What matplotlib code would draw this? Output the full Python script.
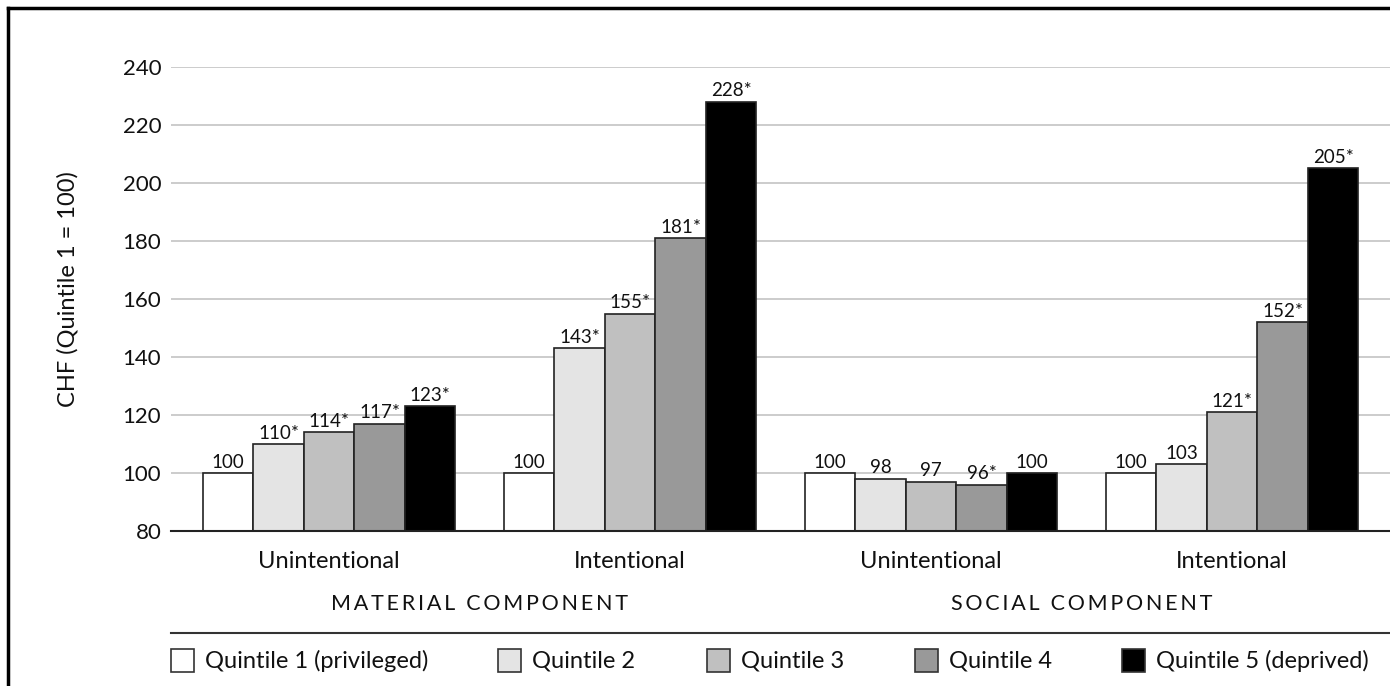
import numpy as np
import matplotlib
matplotlib.use("Agg")
import matplotlib.pyplot as plt
from matplotlib.patches import Rectangle
from matplotlib.lines import Line2D

plt.rcParams['font.family'] = ['Lato', 'DejaVu Sans']

# Datos
categories = ["Unintentional", "Intentional", "Unintentional", "Intentional"]
components = ["MATERIAL COMPONENT", "SOCIAL COMPONENT"]
series_names = ["Quintile 1 (privileged)", "Quintile 2", "Quintile 3",
                "Quintile 4", "Quintile 5 (deprived)"]
q1 = [100, 100, 100, 100]
q2 = [110, 143, 98, 103]
q3 = [114, 155, 97, 121]
q4 = [117, 181, 96, 152]
q5 = [123, 228, 100, 205]
q1_lab = ["100", "100", "100", "100"]
q2_lab = ["110*", "143*", "98", "103"]
q3_lab = ["114*", "155*", "97", "121*"]
q4_lab = ["117*", "181*", "96*", "152*"]
q5_lab = ["123*", "228*", "100", "205*"]
y_ticks = [80, 100, 120, 140, 160, 180, 200, 220, 240]

series = [q1, q2, q3, q4, q5]
labels = [q1_lab, q2_lab, q3_lab, q4_lab, q5_lab]
colors = ["#ffffff", "#e4e4e4", "#c0c0c0", "#999999", "#000000"]

W, H = 1390, 686
fig = plt.figure(figsize=(W / 100, H / 100), dpi=100)
ax = fig.add_axes([171 / W, 1 - 531 / H, 1 - 171 / W, (531 - 67) / H])

x = np.arange(len(categories))
bw = 0.168
for i, (vals, labs, c) in enumerate(zip(series, labels, colors)):
    pos = x + (i - 2) * bw
    heights = np.array(vals) - 80
    ax.bar(pos, heights, width=bw, bottom=80, color=c, edgecolor="#222222",
           linewidth=1.2, zorder=3)
    for p, v, t in zip(pos, vals, labs):
        ax.text(p, v + 0.8, t, ha="center", va="bottom", fontsize=13.5,
                color="#111111", zorder=4)

ax.set_xlim(-0.525, 3.525)
ax.set_ylim(80, 240)
ax.set_yticks(y_ticks)
ax.tick_params(axis="y", length=0, labelsize=16, pad=7, colors="#111111")
ax.set_xticks([])
ax.grid(axis="y", color="#c8c8c8", linewidth=1.3, zorder=0)
for s in ["top", "right", "left"]:
    ax.spines[s].set_visible(False)
ax.spines["bottom"].set_color("#222222")
ax.spines["bottom"].set_linewidth(1.5)
ax.spines["bottom"].set_zorder(5)

# Etiquetas de categoria
for xi, cat in zip(x, categories):
    ax.text(xi, -0.065, cat, transform=ax.get_xaxis_transform(), ha="center",
            va="center", fontsize=17, color="#111111")
for k, comp in enumerate(components):
    spaced = "\u2009".join(comp)
    ax.text(0.5 + 2 * k, -0.158, spaced, transform=ax.get_xaxis_transform(),
            ha="center", va="center", fontsize=15.5, color="#111111")

fig.text(68 / W, 1 - 289 / H, "CHF (Quintile 1 = 100)", rotation=90,
         ha="center", va="center", fontsize=17, color="#111111")

# Linea separadora y leyenda
fig.add_artist(Line2D([171 / W, 1.0], [1 - 633 / H, 1 - 633 / H],
                      color="#333333", linewidth=1.5))
leg_x = [171, 498, 707, 915, 1122]
for lx, name, c in zip(leg_x, series_names, colors):
    fig.add_artist(Rectangle((lx / W, 1 - 672 / H), 23 / W, 23 / H,
                             facecolor=c, edgecolor="#333333", linewidth=1.2))
    fig.text((lx + 34) / W, 1 - 661 / H, name, ha="left", va="center",
             fontsize=17, color="#111111")

# Marco
fig.add_artist(Line2D([8 / W, 1.0], [1 - 8 / H, 1 - 8 / H], color="black", linewidth=2.5))
fig.add_artist(Line2D([8 / W, 8 / W], [0, 1 - 8 / H], color="black", linewidth=2.5))

fig.savefig("out.png", dpi=100)
